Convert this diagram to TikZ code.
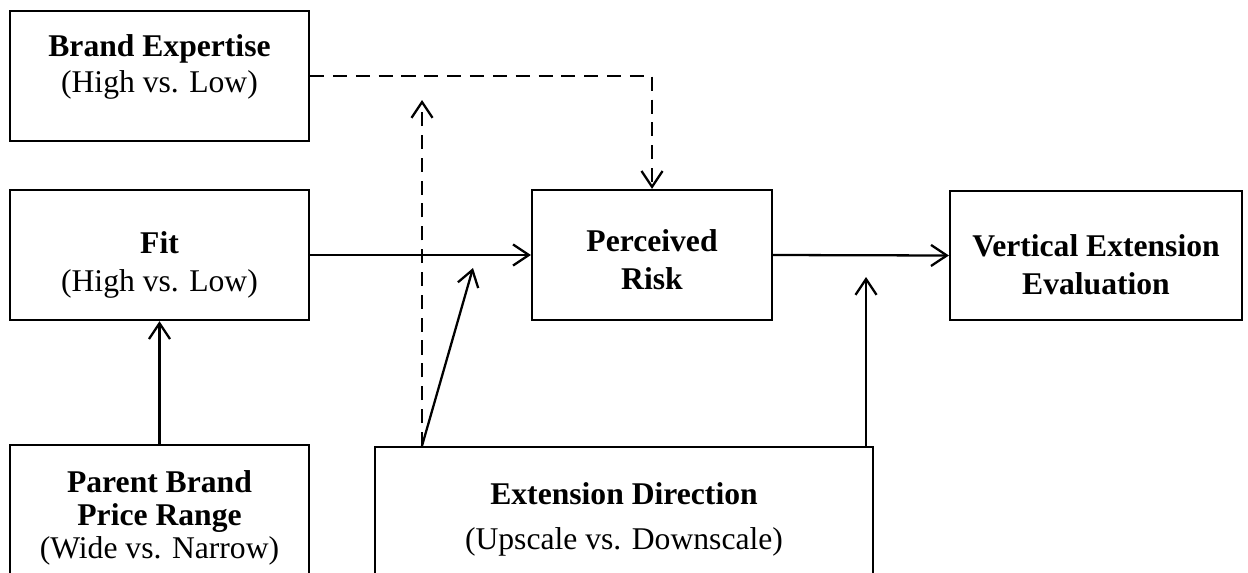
\documentclass[tikz,border=0pt]{standalone}
\usepackage{fontspec}
\setmainfont{Liberation Serif}
\usetikzlibrary{arrows.meta}
\begin{document}
\begin{tikzpicture}[x=0.02cm,y=-0.02cm,
  box/.style={draw, line width=1.3pt, inner sep=0pt},
  ttl/.style={font=\fontsize{18}{20}\selectfont\bfseries, anchor=base, inner sep=0pt},
  sub/.style={font=\fontsize{18}{20}\selectfont, anchor=base, inner sep=0pt},
  arr/.style={line width=1.3pt, -{Straight Barb[length=9pt,width=12pt,line width=1.3pt]}},
  dsh/.style={arr, dash pattern=on 8pt off 5pt}]
\useasboundingbox (0,0) rectangle (1248,572);
\clip (0,0) rectangle (1248,572);
% boxes
\node[box, minimum width=5.98cm, minimum height=2.6cm] (be) at (159.5,76) {};
\node[box, minimum width=5.98cm, minimum height=2.6cm] (fit) at (159.5,255) {};
\node[box, minimum width=4.8cm, minimum height=2.6cm] (pr) at (652,255) {};
\node[box, minimum width=5.84cm, minimum height=2.58cm] (vee) at (1096,255.5) {};
\node[box, minimum width=5.98cm, minimum height=3.1cm] (parent) at (159.5,522.5) {};
\node[box, minimum width=9.96cm, minimum height=3.06cm] (ed) at (624,523.5) {};
% texts
\node[ttl] (be1) at (159.5,56) {Brand Expertise};
\node[sub] (be2) at (159.5,92) {(High vs. Low)};
\node[ttl] (fit1) at (159.5,253) {Fit};
\node[sub] (fit2) at (159.5,291) {(High vs. Low)};
\node[ttl] (pr1) at (652,251) {Perceived};
\node[ttl] (pr2) at (652,289) {Risk};
\node[ttl] (vee1) at (1096,256) {Vertical Extension};
\node[ttl] (vee2) at (1096,294) {Evaluation};
\node[ttl] (pa1) at (159.5,492) {Parent Brand};
\node[ttl] (pa2) at (159.5,525) {Price Range};
\node[sub] (pa3) at (159.5,558) {(Wide vs. Narrow)};
\node[ttl] (ed1) at (624,504) {Extension Direction};
\node[sub] (ed2) at (624,549) {(Upscale vs. Downscale)};
% free ends
\coordinate (dtop) at (422,100);
\coordinate (stip) at (473,268);
\coordinate (etip) at (866,277);
% connectors
\draw[dsh] (be.east) -| (pr.north);
\draw[dsh] (dtop |- ed.north) -- (dtop);
\draw[arr] (dtop |- ed.north) -- (stip);
\draw[arr] (fit.east) -- (pr.west);
\draw[arr] (pr.east) -- (vee.west);
\draw[arr] (etip |- ed.north) -- (etip);
\draw[arr] (parent.north) -- (fit.south);
\end{tikzpicture}
\end{document}
